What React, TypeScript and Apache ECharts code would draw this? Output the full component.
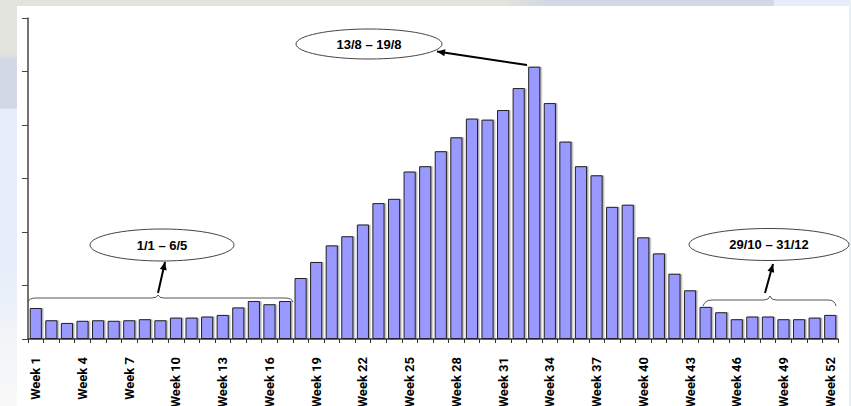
import React, { useEffect, useRef } from "react";
import * as echarts from "echarts";

const weeks: string[] = Array.from({ length: 52 }, (_, i) => `Week ${i + 1}`);
const cases: number[] = [
  58, 35, 30, 34, 35, 34, 35, 37, 35, 40,
  40, 42, 45, 59, 71, 65, 71, 114, 144, 175,
  192, 214, 254, 262, 313, 323, 351, 377, 412, 410,
  428, 469, 509, 441, 369, 323, 306, 247, 251, 190,
  160, 122, 91, 60, 50, 37, 42, 42, 37, 37,
  40, 45,
];
const yTicks: number[] = [0, 100, 200, 300, 400, 500, 600];
const notes: string[] = ["1/1 – 6/5", "13/8 – 19/8", "29/10 – 31/12"];

function arrowHead(x1: number, y1: number, x2: number, y2: number, len = 8, w = 3.5) {
  const dx = x2 - x1;
  const dy = y2 - y1;
  const L = Math.sqrt(dx * dx + dy * dy);
  const ux = dx / L;
  const uy = dy / L;
  const bx = x2 - ux * len;
  const by = y2 - uy * len;
  return [
    [x2, y2],
    [bx - uy * w, by + ux * w],
    [bx + uy * w, by - ux * w],
  ];
}

function arrow(x1: number, y1: number, x2: number, y2: number) {
  return [
    {
      type: "line",
      shape: { x1, y1, x2, y2 },
      style: { stroke: "#000", lineWidth: 2 },
      z: 20,
    },
    {
      type: "polygon",
      shape: { points: arrowHead(x1, y1, x2, y2) },
      style: { fill: "#000" },
      z: 20,
    },
  ];
}

function bubble(cx: number, cy: number, rx: number, ry: number, text: string) {
  return [
    {
      type: "ellipse",
      shape: { cx, cy, rx, ry },
      style: { fill: "#fff", stroke: "#444", lineWidth: 1 },
      z: 19,
    },
    {
      type: "text",
      x: cx,
      y: cy,
      style: {
        text,
        align: "center",
        verticalAlign: "middle",
        fontFamily: "Liberation Sans, Arial, sans-serif",
        fontWeight: "bold",
        fontSize: 13,
        fill: "#000",
      },
      z: 21,
    },
  ];
}

let registered = false;
function registerBraces() {
  if (registered) return;
  registered = true;
  echarts.graphic.registerShape(
    "braceLeft",
    echarts.graphic.extendPath(
      "M28,302 Q29,298 36,298 L152,298 Q157,298 158,295 Q159,298 164,298 L285,298 Q292,298 293,302",
      {}
    )
  );
  echarts.graphic.registerShape(
    "braceRight",
    echarts.graphic.extendPath(
      "M703,306 Q705,300 712,300 L764,300 Q769,300 770,296 Q771,300 776,300 L828,300 Q835,300 836,306",
      {}
    )
  );
}

export default function App() {
  const ref = useRef<HTMLDivElement>(null);
  useEffect(() => {
    if (!ref.current) return;
    registerBraces();
    const chart = echarts.init(ref.current, null, { renderer: "svg" });
    const braceStyle = { fill: "none", stroke: "#555", lineWidth: 1 };
    chart.setOption({
      animation: false,
      backgroundColor: "#ffffff",
      grid: {
        left: 28,
        right: 13,
        top: 18,
        bottom: 67,
        containLabel: false,
        outerBoundsMode: "none",
      },
      xAxis: {
        type: "category",
        data: weeks,
        boundaryGap: true,
        axisLine: { show: true, lineStyle: { color: "#333", width: 1.5 } },
        axisTick: { show: true, interval: 0, length: 4, lineStyle: { color: "#333" } },
        axisLabel: {
          interval: 2,
          rotate: 90,
          margin: 18,
          fontFamily: "Roboto, Liberation Sans, sans-serif",
          fontWeight: "bold",
          fontSize: 13,
          color: "#000",
        },
      },
      yAxis: {
        type: "value",
        min: yTicks[0],
        max: yTicks[yTicks.length - 1],
        interval: yTicks[1] - yTicks[0],
        axisLine: { show: true, lineStyle: { color: "#444", width: 1.5 } },
        axisTick: { show: true, length: 6, lineStyle: { color: "#444" } },
        axisLabel: { show: false },
        splitLine: { show: false },
      },
      series: [
        {
          type: "bar",
          data: cases,
          barCategoryGap: "22%",
          itemStyle: {
            color: "#9999ff",
            borderColor: "#222",
            borderWidth: 1,
            shadowColor: "rgba(0,0,0,0.3)",
            shadowOffsetX: 1.5,
            shadowOffsetY: 0,
            shadowBlur: 0,
          },
        },
      ],
      graphic: [
        {
          type: "rect",
          shape: { x: 0, y: 0, width: 851, height: 6 },
          style: {
            fill: new echarts.graphic.LinearGradient(0, 0, 1, 0, [
              { offset: 0, color: "#e4e4df" },
              { offset: 0.59, color: "#e4e4df" },
              { offset: 0.64, color: "#d2d9e4" },
              { offset: 0.909, color: "#d2d9e4" },
              { offset: 0.91, color: "#e6eefa" },
              { offset: 1, color: "#e6eefa" },
            ]),
          },
          z: 1,
        },
        {
          type: "rect",
          shape: { x: 0, y: 0, width: 17, height: 406 },
          style: {
            fill: new echarts.graphic.LinearGradient(0, 0, 0, 1, [
              { offset: 0, color: "#e4e4df" },
              { offset: 0.13, color: "#e4e4df" },
              { offset: 0.15, color: "#d2d9e4" },
              { offset: 0.265, color: "#d2d9e4" },
              { offset: 0.27, color: "#e6eefa" },
              { offset: 0.66, color: "#e6eefa" },
              { offset: 0.85, color: "#f3f5f7" },
              { offset: 1, color: "#f8f8f8" },
            ]),
          },
          z: 1,
        },
        { type: "rect", shape: { x: 849, y: 6, width: 2, height: 400 }, style: { fill: "#e6eefa" }, z: 1 },
        { type: "braceLeft", style: braceStyle, z: 18 },
        { type: "braceRight", style: braceStyle, z: 18 },
        ...bubble(162, 245, 72, 16, notes[0]),
        ...bubble(369, 44, 73, 15, notes[1]),
        ...bubble(769, 244.5, 80, 16, notes[2]),
        ...arrow(527, 65, 437, 51.5),
        ...arrow(158, 293, 165, 262),
        ...arrow(765, 293, 773, 264),
      ],
    });
    return () => chart.dispose();
  }, []);
  return (
    <div
      ref={ref}
      style={{ position: "fixed", left: 0, top: 0, width: 851, height: 406 }}
    />
  );
}
